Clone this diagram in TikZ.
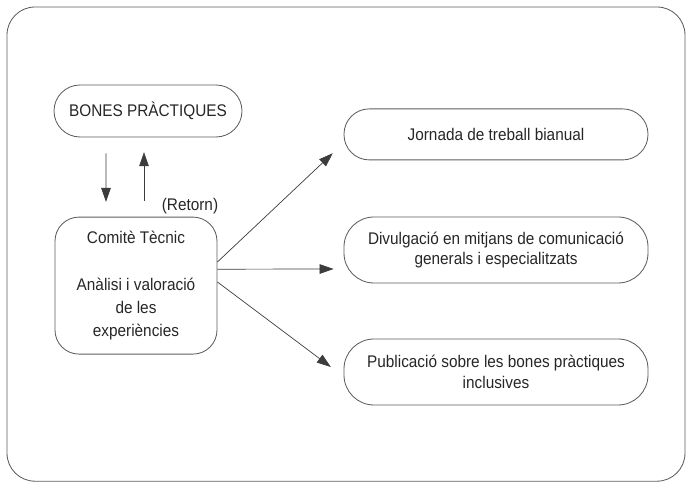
\documentclass[tikz,border=0pt]{standalone}
\usepackage{fontspec}
\setmainfont[FakeStretch=0.91]{Liberation Sans}
\usetikzlibrary{arrows.meta}

\definecolor{ink}{HTML}{262626}
\definecolor{edge}{HTML}{5E5E5E}

\tikzstyle{every node}=[text=ink, font=\fontsize{12}{14.8}\selectfont]
\tikzstyle{pill}=[draw=edge, line width=0.6pt, align=center,
                  minimum width=7.6cm, inner sep=0pt]
\tikzstyle{arr}=[draw=ink!90, line width=0.5pt,
                 -{Triangle[length=0.35cm, width=0.24cm]}]

\begin{document}
\begin{tikzpicture}
  \useasboundingbox (0, 0) rectangle (17.25, -12.075);
  \path[draw=edge, line width=0.6pt, rounded corners=0.7cm]
    (0.175, -0.175) rectangle (17.125, -12.03);

  \node[pill, minimum width=4.7cm, minimum height=1.3cm,
        rounded corners=0.65cm] (bones) at (3.7, -2.775) {BONES PRÀCTIQUES};
  \node[pill, minimum width=4.05cm, minimum height=3.425cm,
        rounded corners=0.6cm, font=\fontsize{12}{16.3}\selectfont]
        (comite) at (3.4, -7.14)
        {Comitè Tècnic\\[17pt]Anàlisi i valoració\\de les\\experiències};

  \node[pill, minimum height=1.275cm, rounded corners=0.63cm]
        (jornada) at (12.4, -3.36) {Jornada de treball bianual};
  \node[pill, minimum height=1.65cm, rounded corners=0.75cm]
        (divulgacio) at (12.4, -6.25)
        {Divulgació en mitjans de comunicació\\generals i especialitzats};
  \node[pill, minimum height=1.65cm, rounded corners=0.75cm]
        (publicacio) at (12.4, -9.3)
        {Publicació sobre les bones pràctiques\\inclusives};

  \draw[arr, shorten <=0.4cm, shorten >=0.37cm]
    ([xshift=-1.05cm]bones.south) -- ([xshift=-0.75cm]comite.north);
  \draw[arr, shorten <=0.4cm, shorten >=0.37cm]
    ([xshift=0.2cm]comite.north) -- ([xshift=-0.1cm]bones.south);
  \node (retorn) at (4.75, -5.15) {(Retorn)};

  \draw[arr] ([yshift=0.59cm]comite.east) -- ([xshift=-0.27cm, yshift=-0.47cm]jornada.west);
  \draw[arr] ([yshift=0.41cm]comite.east) -- ([xshift=-0.25cm, yshift=-0.475cm]divulgacio.west);
  \draw[arr] ([yshift=0.09cm]comite.east) -- ([xshift=-0.32cm, yshift=0.125cm]publicacio.west);
\end{tikzpicture}
\end{document}
